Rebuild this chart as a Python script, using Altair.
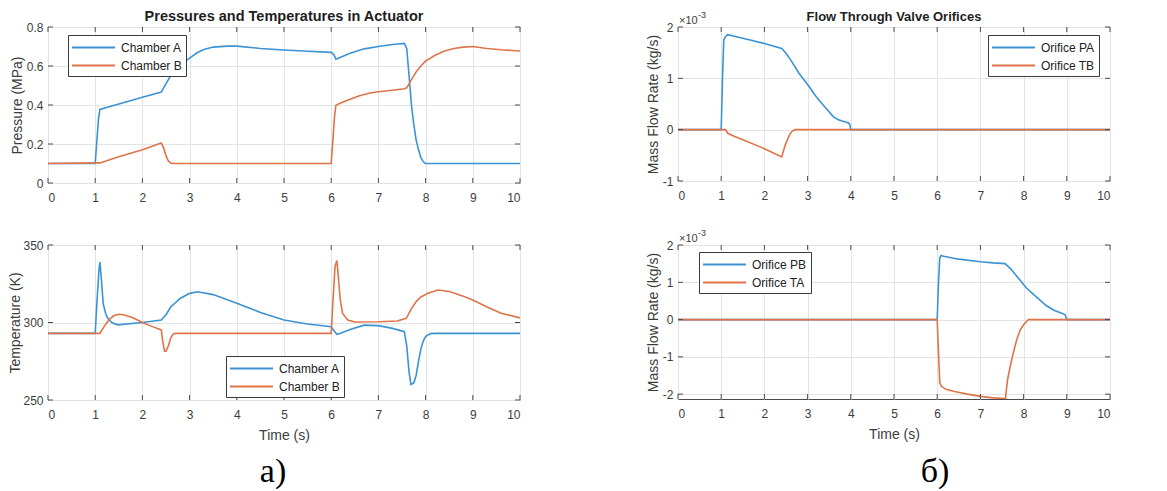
import altair as alt
import pandas as pd

# ---------------- data ----------------
X_TICKS = [0, 1, 2, 3, 4, 5, 6, 7, 8, 9, 10]

# Pressure (MPa)
pa_t = [0, 1.0, 1.03, 1.07, 1.1, 1.5, 2.0, 2.4, 2.5, 2.6, 2.7, 2.8, 3.0, 3.16, 3.3, 3.5, 3.8, 4.0,
        4.5, 5.0, 5.5, 6.0, 6.05, 6.1, 6.2, 6.4, 6.7, 7.0, 7.3, 7.55, 7.6, 7.65, 7.7, 7.75, 7.8,
        7.85, 7.9, 7.95, 8.0, 10]
pa_v = [0.1, 0.1, 0.2, 0.33, 0.377, 0.405, 0.44, 0.466, 0.51, 0.55, 0.58, 0.605, 0.64, 0.668, 0.685,
        0.697, 0.702, 0.702, 0.69, 0.682, 0.676, 0.67, 0.66, 0.635, 0.645, 0.665, 0.688, 0.70, 0.71,
        0.716, 0.69, 0.55, 0.40, 0.30, 0.22, 0.17, 0.13, 0.11, 0.10, 0.10]
pb_t = [0, 1.1, 1.5, 2.0, 2.4, 2.45, 2.5, 2.55, 2.6, 2.65, 6.0, 6.03, 6.07, 6.1, 6.2, 6.4, 6.6, 6.8,
        7.0, 7.3, 7.55, 7.6, 7.7, 7.8, 7.9, 8.0, 8.2, 8.4, 8.6, 8.8, 9.0, 9.3, 9.6, 10]
pb_v = [0.1, 0.103, 0.135, 0.17, 0.205, 0.18, 0.14, 0.113, 0.102, 0.1, 0.1, 0.2, 0.34, 0.399, 0.41,
        0.43, 0.447, 0.46, 0.468, 0.476, 0.483, 0.488, 0.53, 0.57, 0.60, 0.625, 0.655, 0.677, 0.69,
        0.697, 0.70, 0.69, 0.683, 0.677]

# Temperature (K)
ta_t = [0, 1.0, 1.04, 1.08, 1.1, 1.13, 1.17, 1.22, 1.26, 1.35, 1.47, 2.0, 2.4, 2.5, 2.6, 2.8, 3.0,
        3.17, 3.5, 4.0, 4.5, 5.0, 5.5, 6.0, 6.05, 6.12, 6.2, 6.4, 6.7, 7.0, 7.3, 7.55, 7.6, 7.65,
        7.69, 7.75, 7.8, 7.85, 7.9, 7.95, 8.0, 8.1, 8.2, 10]
ta_v = [293, 293, 315, 334, 339, 328, 312, 306, 303, 300, 298.5, 300, 301.6, 305, 310, 315.5, 318.8,
        319.8, 318, 312.4, 306.5, 301.6, 299, 297.3, 295, 292.4, 293, 295.5, 298.3, 298, 296.2,
        294.1, 285, 268, 260, 261, 266, 275, 283, 288, 291, 292.8, 293, 293]
tb_t = [0, 1.1, 1.2, 1.3, 1.4, 1.5, 1.6, 1.8, 2.0, 2.2, 2.4, 2.43, 2.47, 2.5, 2.55, 2.6, 2.65, 2.7,
        6.0, 6.04, 6.08, 6.12, 6.15, 6.19, 6.24, 6.35, 6.5, 7.0, 7.4, 7.59, 7.7, 7.8, 7.9, 8.05,
        8.26, 8.5, 8.8, 9.0, 9.3, 9.6, 10]
tb_v = [293, 293, 298, 302, 304.5, 305.3, 305, 303, 300, 297.5, 295.2, 288, 281.5, 281.5, 285, 290,
        292.5, 293, 293, 315, 336, 340, 330, 315, 306, 301.6, 300.3, 300.5, 301, 302.7, 309, 313.5,
        316.5, 318.8, 321, 320, 317, 314.5, 310, 306, 303]

# Mass flow (x 1e-3 kg/s)
fpa_t = [0, 1.0, 1.03, 1.06, 1.1, 1.15, 1.5, 2.0, 2.4, 2.5, 2.6, 2.8, 3.0, 3.2, 3.4, 3.6, 3.7, 3.8,
         3.9, 3.95, 3.98, 4.0, 10]
fpa_v = [0, 0, 1.0, 1.75, 1.81, 1.85, 1.78, 1.68, 1.58, 1.49, 1.37, 1.1, 0.88, 0.64, 0.44, 0.25,
         0.2, 0.17, 0.145, 0.13, 0.09, 0, 0]
ftb_t = [0, 1.1, 1.15, 1.3, 1.6, 2.0, 2.4, 2.43, 2.47, 2.52, 2.57, 2.62, 2.67, 2.72, 10]
ftb_v = [0, 0, -0.07, -0.13, -0.23, -0.37, -0.53, -0.45, -0.33, -0.22, -0.12, -0.05, -0.015, 0, 0]
fpb_t = [0, 6.0, 6.03, 6.06, 6.09, 6.15, 6.5, 7.0, 7.3, 7.57, 7.7, 7.9, 8.07, 8.3, 8.53, 8.7, 8.9,
         8.96, 9.0, 10]
fpb_v = [0, 0, 1.0, 1.65, 1.72, 1.70, 1.62, 1.55, 1.52, 1.5, 1.36, 1.08, 0.84, 0.6, 0.37, 0.25,
         0.16, 0.13, 0, 0]
fta_t = [0, 6.0, 6.03, 6.06, 6.1, 6.2, 6.4, 6.7, 7.0, 7.3, 7.55, 7.58, 7.6, 7.63, 7.69, 7.75, 7.84,
         7.92, 8.0, 8.11, 10]
fta_v = [0, 0, -0.9, -1.7, -1.79, -1.87, -1.93, -2.0, -2.06, -2.1, -2.12, -2.12, -1.9, -1.6, -1.26,
         -0.95, -0.54, -0.28, -0.14, 0, 0]

TL_NAMES = ["Chamber A", "Chamber B"]
TR_NAMES = ["Orifice PA", "Orifice TB"]
BR_NAMES = ["Orifice PB", "Orifice TA"]

# ---------------- styling ----------------
BLUE = "#3b93d3"
ORANGE = "#df7349"
FONT = "Liberation Sans"
TXT = "#3c3c3c"
FRAME = "#4a4a4a"
MINUS_FIX = "replace(datum.label, '\u2212', '-')"


def long_df(names, ts, vs):
    rows = []
    for n, t_list, v_list in zip(names, ts, vs):
        for t, v in zip(t_list, v_list):
            rows.append({"t": t, "v": v, "s": n})
    return pd.DataFrame(rows)


one = pd.DataFrame({"k": [0]})


def panel(df, names, ydom, yticks, ytitle, yfmt, w, h, lx, ly, xtitle=None, title=None,
          title_size=13, exp=False, caption=None, cap_x=0, cap_y=0, ytp=0):
    xaxis = alt.Axis(values=X_TICKS, title=xtitle if xtitle else "", labelPadding=9,
                     titlePadding=8, grid=True)
    yaxis = alt.Axis(values=yticks, title=ytitle, labelPadding=5, titlePadding=ytp, grid=True,
                     format=yfmt, labelExpr=MINUS_FIX)
    xenc = alt.X("t:Q", scale=alt.Scale(domain=[0, 10], nice=False, zero=False), axis=xaxis)
    yenc = alt.Y("v:Q", scale=alt.Scale(domain=ydom, nice=False, zero=False), axis=yaxis)

    lines = alt.Chart(df).mark_line(strokeWidth=1.6, clip=True).encode(
        x=xenc, y=yenc,
        color=alt.Color("s:N", sort=names,
                        scale=alt.Scale(domain=names, range=[BLUE, ORANGE]),
                        legend=alt.Legend(title=None, orient="none", legendX=lx, legendY=ly)),
        detail="s:N",
    )
    xt = pd.DataFrame({"t": X_TICKS})
    yt = pd.DataFrame({"v": yticks})
    xb = alt.Chart(xt).mark_rule(color=FRAME, strokeWidth=1).encode(
        x=xenc, y=alt.value(h), y2=alt.value(h - 5))
    xtop = alt.Chart(xt).mark_rule(color=FRAME, strokeWidth=1).encode(
        x=xenc, y=alt.value(0), y2=alt.value(5))
    yl = alt.Chart(yt).mark_rule(color=FRAME, strokeWidth=1).encode(
        y=yenc, x=alt.value(0), x2=alt.value(5))
    yr = alt.Chart(yt).mark_rule(color=FRAME, strokeWidth=1).encode(
        y=yenc, x=alt.value(w), x2=alt.value(w - 5))
    layers = [lines, xb, xtop, yl, yr]
    if title:
        layers.append(alt.Chart(one).mark_text(
            text=title, font=FONT, fontSize=title_size, fontWeight="bold", color="#1e1e1e",
            align="center", baseline="alphabetic").encode(x=alt.value(w / 2), y=alt.value(-6)))
    if exp:
        layers.append(alt.Chart(one).mark_text(
            text="×10", font=FONT, fontSize=11, color=TXT, align="left",
            baseline="middle").encode(x=alt.value(1), y=alt.value(-6)))
        layers.append(alt.Chart(one).mark_text(
            text="-3", font=FONT, fontSize=9, color=TXT, align="left",
            baseline="middle").encode(x=alt.value(20), y=alt.value(-12)))
    if caption:
        layers.append(alt.Chart(one).mark_text(
            text=caption, font="Liberation Serif", fontSize=34, color="#000000",
            align="center", baseline="alphabetic").encode(x=alt.value(cap_x), y=alt.value(cap_y)))
    return alt.layer(*layers).properties(width=w, height=h)


tl = panel(long_df(TL_NAMES, [pa_t, pb_t], [pa_v, pb_v]), TL_NAMES, [0, 0.8],
           [0, 0.2, 0.4, 0.6, 0.8], "Pressure (MPa)", ".1~f", 472, 156, 20, 8,
           title="Pressures and Temperatures in Actuator", title_size=14.5, ytp=2)
bl = panel(long_df(TL_NAMES, [ta_t, tb_t], [ta_v, tb_v]), TL_NAMES, [250, 350],
           [250, 300, 350], "Temperature (K)", "d", 472, 155, 178, 111, xtitle="Time (s)",
           caption="а)", cap_x=225, cap_y=237, ytp=0)
tr = panel(long_df(TR_NAMES, [fpa_t, ftb_t], [fpa_v, ftb_v]), TR_NAMES, [-1, 2],
           [-1, 0, 1, 2], "Mass Flow Rate (kg/s)", "d", 432, 154, 310, 8,
           title="Flow Through Valve Orifices", exp=True, ytp=2)
br = panel(long_df(BR_NAMES, [fpb_t, fta_t], [fpb_v, fta_v]), BR_NAMES, [-2.13, 2],
           [-2, -1, 0, 1, 2], "Mass Flow Rate (kg/s)", "d", 432, 154, 21, 7, xtitle="Time (s)",
           exp=True, caption="б)", cap_x=257, cap_y=237, ytp=2)

# legend symbol: a long horizontal stroke drawn by a custom path (3x the symbol size)
LEG_PATH = "M-3,0H3"
LEG_SIZE = 205

chart = alt.concat(
    tl, tr, bl, br, columns=2, spacing={"row": 62, "column": 158}, bounds="flush", align="each"
).resolve_scale(color="independent").resolve_legend(color="independent").properties(
    padding={"left": 0, "top": 0, "right": 2, "bottom": 0}
).configure(font=FONT).configure_view(
    stroke=FRAME, strokeWidth=1
).configure_axis(
    labelFont=FONT, labelFontSize=12, labelColor=TXT,
    titleFont=FONT, titleFontSize=14, titleFontWeight="normal", titleColor=TXT,
    gridColor="#e4e4e4", gridWidth=1, domain=False, ticks=False
).configure_legend(
    fillColor="#ffffff", strokeColor="#3a3a3a", padding=4, rowPadding=3,
    labelFont=FONT, labelFontSize=12, labelColor="#222222",
    symbolType=LEG_PATH, symbolSize=LEG_SIZE, symbolStrokeWidth=2,
    symbolOffset=13, labelOffset=19, cornerRadius=0
)

chart.save("out.html", embed_options={"renderer": "svg", "actions": False})
